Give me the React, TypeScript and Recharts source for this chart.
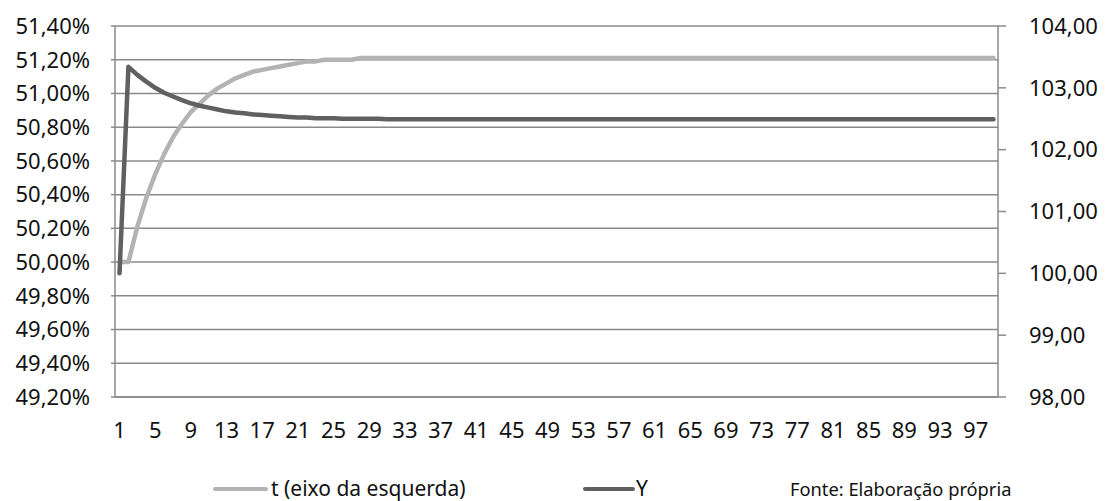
import React from 'react';
import { LineChart, Line, XAxis, YAxis, CartesianGrid, Legend } from 'recharts';

// periods 1..99
const periods: number[] = Array.from({ length: 99 }, (_, i) => i + 1);

// t (left axis, %)
const tValues: number[] = [
  50.0, 50.0, 50.21, 50.38, 50.52, 50.64, 50.74, 50.82, 50.89, 50.94,
  50.99, 51.03, 51.06, 51.09, 51.11, 51.13, 51.14, 51.15, 51.16, 51.17,
  51.18, 51.19, 51.19, 51.2, 51.2, 51.2, 51.2, 51.21, 51.21, 51.21,
  51.21, 51.21, 51.21, 51.21, 51.21, 51.21, 51.21, 51.21, 51.21, 51.21,
  51.21, 51.21, 51.21, 51.21, 51.21, 51.21, 51.21, 51.21, 51.21, 51.21,
  51.21, 51.21, 51.21, 51.21, 51.21, 51.21, 51.21, 51.21, 51.21, 51.21,
  51.21, 51.21, 51.21, 51.21, 51.21, 51.21, 51.21, 51.21, 51.21, 51.21,
  51.21, 51.21, 51.21, 51.21, 51.21, 51.21, 51.21, 51.21, 51.21, 51.21,
  51.21, 51.21, 51.21, 51.21, 51.21, 51.21, 51.21, 51.21, 51.21, 51.21,
  51.21, 51.21, 51.21, 51.21, 51.21, 51.21, 51.21, 51.21, 51.21,
];

// Y (right axis)
const yValues: number[] = [
  100.0, 103.34, 103.21, 103.1, 103.0, 102.92, 102.86, 102.8, 102.75, 102.71,
  102.68, 102.65, 102.62, 102.6, 102.59, 102.57, 102.56, 102.55, 102.54, 102.53,
  102.52, 102.52, 102.51, 102.51, 102.51, 102.5, 102.5, 102.5, 102.5, 102.5,
  102.49, 102.49, 102.49, 102.49, 102.49, 102.49, 102.49, 102.49, 102.49, 102.49,
  102.49, 102.49, 102.49, 102.49, 102.49, 102.49, 102.49, 102.49, 102.49, 102.49,
  102.49, 102.49, 102.49, 102.49, 102.49, 102.49, 102.49, 102.49, 102.49, 102.49,
  102.49, 102.49, 102.49, 102.49, 102.49, 102.49, 102.49, 102.49, 102.49, 102.49,
  102.49, 102.49, 102.49, 102.49, 102.49, 102.49, 102.49, 102.49, 102.49, 102.49,
  102.49, 102.49, 102.49, 102.49, 102.49, 102.49, 102.49, 102.49, 102.49, 102.49,
  102.49, 102.49, 102.49, 102.49, 102.49, 102.49, 102.49, 102.49, 102.49,
];

const leftTicks = [49.2, 49.4, 49.6, 49.8, 50.0, 50.2, 50.4, 50.6, 50.8, 51.0, 51.2, 51.4];
const rightTicks = [98, 99, 100, 101, 102, 103, 104];

const seriesNames = { t: 't (eixo da esquerda)', y: 'Y' };
const sourceNote = 'Fonte: Elaboração própria';

const data = periods.map((p, i) => ({ period: p, t: tValues[i], y: yValues[i] }));

const FONT = '"Noto Sans", "Open Sans", sans-serif';
const LIGHT = '#b3b3b3';
const DARK = '#606060';
const GRID = '#8a8a8a';

const fmtPct = (v: number) => v.toFixed(2).replace('.', ',') + '%';
const fmtNum = (v: number) => v.toFixed(2).replace('.', ',');

const LegendContent = () => (
  <div style={{ position: 'relative', width: 1107, height: 24, fontFamily: FONT, color: '#111' }}>
    <div style={{ position: 'absolute', left: 213, top: 11, width: 55, height: 4, background: LIGHT, borderRadius: 2 }} />
    <div style={{ position: 'absolute', left: 271, top: 0, fontSize: 21, lineHeight: '24px', whiteSpace: 'nowrap' }}>{seriesNames.t}</div>
    <div style={{ position: 'absolute', left: 583, top: 11, width: 52, height: 4, background: DARK, borderRadius: 2 }} />
    <div style={{ position: 'absolute', left: 636, top: 0, fontSize: 21, lineHeight: '24px' }}>{seriesNames.y}</div>
    <div style={{ position: 'absolute', left: 790, top: 1, fontSize: 18.3, lineHeight: '24px', whiteSpace: 'nowrap' }}>{sourceNote}</div>
  </div>
);

const App: React.FC = () => {
  const tickStyle = { fontFamily: FONT, fontSize: 22, fill: '#111' };
  return (
    <div style={{ position: 'absolute', left: 0, top: 0, width: 1107, height: 501, background: '#fff' }}>
      <LineChart width={1107} height={501} data={data} margin={{ top: 26, right: 0, bottom: 54, left: 0 }}>
        <CartesianGrid yAxisId="left" vertical={false} stroke={GRID} strokeWidth={1.5} />
        <XAxis
          dataKey="period"
          interval={3}
          height={50}
          padding={{ left: 4.5, right: 4.5 }}
          tickLine={false}
          tickSize={0}
          tickMargin={25}
          axisLine={{ stroke: GRID, strokeWidth: 1.5 }}
          tick={tickStyle}
        />
        <YAxis
          yAxisId="left"
          width={115}
          domain={[49.2, 51.4]}
          ticks={leftTicks}
          interval={0}
          allowDataOverflow
          tickFormatter={fmtPct}
          tickSize={4}
          tickMargin={21}
          axisLine={{ stroke: GRID, strokeWidth: 1.5 }}
          tickLine={{ stroke: GRID, strokeWidth: 1.5 }}
          tick={tickStyle}
        />
        <YAxis
          yAxisId="right"
          orientation="right"
          width={109}
          domain={[98, 104]}
          ticks={rightTicks}
          interval={0}
          allowDataOverflow
          tickFormatter={fmtNum}
          tickSize={8}
          tickMargin={23}
          axisLine={{ stroke: GRID, strokeWidth: 1.5 }}
          tickLine={{ stroke: GRID, strokeWidth: 1.5 }}
          tick={{ ...tickStyle, textAnchor: 'start' }}
        />
        <Legend
          verticalAlign="middle"
          align="center"
          layout="horizontal"
          wrapperStyle={{ top: 476, left: 0, width: 1107 }}
          content={<LegendContent />}
        />
        <Line
          yAxisId="left"
          type="linear"
          dataKey="t"
          name={seriesNames.t}
          stroke={LIGHT}
          strokeWidth={4.5}
          strokeLinecap="round"
          strokeLinejoin="round"
          dot={false}
          isAnimationActive={false}
        />
        <Line
          yAxisId="right"
          type="linear"
          dataKey="y"
          name={seriesNames.y}
          stroke={DARK}
          strokeWidth={4.5}
          strokeLinecap="round"
          strokeLinejoin="round"
          dot={false}
          isAnimationActive={false}
        />
      </LineChart>
    </div>
  );
};

export default App;
